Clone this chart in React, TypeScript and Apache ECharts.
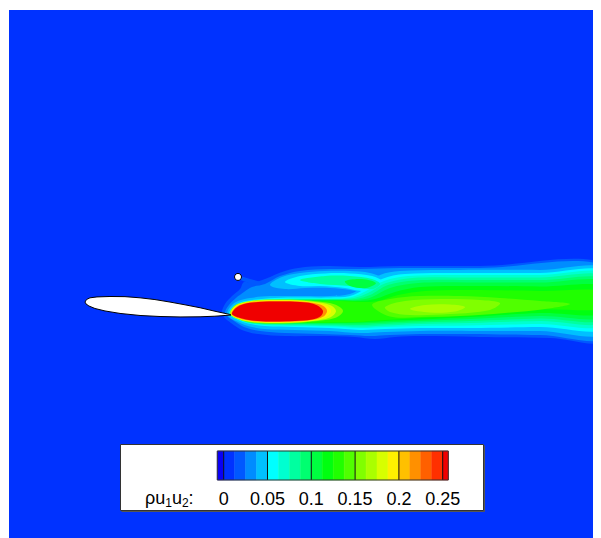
import React, { useEffect, useRef } from 'react';
import * as echarts from 'echarts';

type Pt = [number, number];

// contour levels of rho*u1*u2 (band i lies between LEVELS[i-1] and LEVELS[i])
const LEVELS = [0, 0.0125, 0.025, 0.0375, 0.05, 0.0625, 0.075, 0.0875, 0.1, 0.1125, 0.125, 0.1375, 0.15, 0.1625, 0.175, 0.1875, 0.2, 0.2125, 0.225, 0.2375, 0.25];
const BAR_MIN = -0.0073;
const BAR_MAX = 0.2564;
const TICK_VALUES = [0, 0.05, 0.1, 0.15, 0.2, 0.25];
const BAND_COLORS = ['#0A00F5', '#0032FF', '#0058FF', '#008CFF', '#00C0FF', '#00FFFF', '#00FFD0', '#00FFA0', '#00FF70', '#00FF40', '#00FF10', '#20FF00', '#50FF00', '#80FF00', '#AAFF00', '#D7FF00', '#FFF000', '#FFC000', '#FF9000', '#FF6000', '#FF3000', '#F00000'];

// domain in chord units (x/c, y/c)
const X_RANGE: Pt = [-0.5205, 3.5342];
const Y_RANGE: Pt = [-1.5411, 2.0753];

const airfoil: Pt[] = [
  [0, 0.075], [0.010, 0.092], [0.034, 0.104], [0.082, 0.110], [0.171, 0.113], [0.274, 0.112], [0.377, 0.104],
  [0.479, 0.092], [0.582, 0.075], [0.685, 0.056], [0.788, 0.036], [0.890, 0.012], [0.993, -0.010],
  [1.0, -0.014], [0.890, -0.022], [0.788, -0.026], [0.651, -0.027], [0.514, -0.024], [0.377, -0.017],
  [0.240, -0.003], [0.137, 0.014], [0.068, 0.031], [0.027, 0.048], [0.007, 0.062],
];
const probe: Pt = [1.048, 0.247];

const wake0125: Pt[] = [
  [0.938, 0.007], [0.959, 0.062], [1.007, 0.116], [1.062, 0.164], [1.089, 0.212], [1.144, 0.205], [1.233, 0.233],
  [1.370, 0.288], [1.507, 0.315], [1.678, 0.322], [1.884, 0.315], [2.158, 0.322], [2.705, 0.322], [3.596, 0.322],
  [3.596, -0.178], [3.185, -0.171], [2.705, -0.164], [2.295, -0.158], [2.123, -0.164], [1.986, -0.178],
  [1.849, -0.164], [1.610, -0.158], [1.370, -0.158], [1.185, -0.144], [1.075, -0.116], [1.0, -0.068], [0.952, -0.027],
];
const trail0125: Pt[] = [[1.048, 0.253], [1.130, 0.233], [1.212, 0.205], [1.185, 0.185], [1.103, 0.212], [1.055, 0.233]];
const wake025: Pt[] = [
  [0.959, 0.007], [0.986, 0.055], [1.034, 0.103], [1.089, 0.144], [1.144, 0.178], [1.233, 0.199], [1.336, 0.253],
  [1.473, 0.288], [1.678, 0.301], [1.884, 0.301], [2.158, 0.308], [2.705, 0.308], [3.596, 0.308],
  [3.596, -0.158], [3.116, -0.151], [2.637, -0.144], [2.295, -0.144], [2.089, -0.151], [1.952, -0.158],
  [1.815, -0.151], [1.610, -0.144], [1.370, -0.137], [1.199, -0.123], [1.089, -0.096], [1.021, -0.055], [0.973, -0.021],
];
const wake0375: Pt[] = [
  [0.973, 0], [1.0, 0.048], [1.048, 0.082], [1.130, 0.103], [1.267, 0.116], [1.473, 0.116], [1.678, 0.116],
  [1.815, 0.130], [1.918, 0.185], [2.021, 0.260], [2.158, 0.288], [2.568, 0.295], [3.116, 0.295], [3.596, 0.291],
  [3.596, -0.130], [3.116, -0.123], [2.637, -0.123], [2.295, -0.123], [2.055, -0.130], [1.884, -0.137],
  [1.678, -0.123], [1.438, -0.116], [1.233, -0.110], [1.116, -0.089], [1.034, -0.055], [0.986, -0.027],
];
const lobe0375: Pt[] = [
  [1.267, 0.192], [1.349, 0.247], [1.473, 0.274], [1.644, 0.288], [1.815, 0.288], [1.952, 0.274], [2.055, 0.226],
  [2.021, 0.158], [1.918, 0.137], [1.815, 0.158], [1.678, 0.171], [1.507, 0.171], [1.370, 0.164],
];
const wake05: Pt[] = [
  [0.986, 0], [1.014, 0.041], [1.062, 0.072], [1.144, 0.089], [1.301, 0.103], [1.473, 0.106], [1.678, 0.106],
  [1.815, 0.116], [1.918, 0.164], [2.034, 0.233], [2.192, 0.267], [2.637, 0.274], [3.116, 0.274], [3.596, 0.274],
  [3.596, -0.096], [3.116, -0.096], [2.637, -0.103], [2.295, -0.103], [2.055, -0.110], [1.884, -0.116],
  [1.678, -0.103], [1.438, -0.096], [1.233, -0.089], [1.116, -0.072], [1.048, -0.048], [1.0, -0.021],
];
const lobe05: Pt[] = [
  [1.370, 0.212], [1.473, 0.253], [1.644, 0.271], [1.815, 0.271], [1.966, 0.253], [2.041, 0.212],
  [2.007, 0.164], [1.897, 0.151], [1.781, 0.171], [1.610, 0.185], [1.473, 0.185],
];
const wake0625: Pt[] = [
  [0.993, 0], [1.021, 0.034], [1.075, 0.065], [1.164, 0.082], [1.336, 0.096], [1.541, 0.099], [1.712, 0.099],
  [1.829, 0.110], [1.925, 0.151], [2.048, 0.219], [2.212, 0.253], [2.637, 0.260], [3.116, 0.260], [3.596, 0.260],
  [3.596, -0.075], [3.116, -0.075], [2.637, -0.086], [2.295, -0.089], [2.055, -0.096], [1.884, -0.103],
  [1.678, -0.093], [1.438, -0.089], [1.233, -0.082], [1.116, -0.068], [1.055, -0.045], [1.007, -0.021],
];
const wake075: Pt[] = [
  [1.0, 0], [1.027, 0.031], [1.089, 0.062], [1.185, 0.079], [1.370, 0.092], [1.575, 0.096], [1.733, 0.096],
  [1.842, 0.103], [1.938, 0.137], [2.062, 0.205], [2.240, 0.240], [2.637, 0.243], [3.116, 0.243], [3.596, 0.243],
  [3.596, -0.055], [3.116, -0.055], [2.637, -0.068], [2.295, -0.075], [2.055, -0.086], [1.884, -0.093],
  [1.678, -0.086], [1.438, -0.082], [1.233, -0.079], [1.116, -0.065], [1.062, -0.041], [1.014, -0.017],
];
const lobe075: Pt[] = [
  [1.473, 0.226], [1.644, 0.253], [1.815, 0.253], [1.966, 0.233], [2.021, 0.199], [1.966, 0.164], [1.815, 0.185], [1.610, 0.199],
];
const wake0875: Pt[] = [
  [1.003, 0], [1.034, 0.027], [1.103, 0.058], [1.199, 0.075], [1.404, 0.089], [1.596, 0.092], [1.747, 0.092],
  [1.856, 0.096], [1.952, 0.123], [2.075, 0.192], [2.260, 0.223], [2.637, 0.226], [3.116, 0.226], [3.596, 0.226],
  [3.596, -0.038], [3.116, -0.038], [2.637, -0.055], [2.295, -0.065], [2.055, -0.075], [1.884, -0.082],
  [1.678, -0.079], [1.438, -0.075], [1.233, -0.075], [1.116, -0.062], [1.062, -0.038], [1.021, -0.014],
];
const wake1: Pt[] = [
  [1.007, 0], [1.041, 0.027], [1.116, 0.055], [1.212, 0.072], [1.438, 0.086], [1.610, 0.089], [1.760, 0.089],
  [1.870, 0.089], [1.966, 0.110], [2.089, 0.171], [2.281, 0.205], [2.637, 0.209], [3.116, 0.209], [3.596, 0.209],
  [3.596, -0.021], [3.116, -0.021], [2.637, -0.041], [2.295, -0.055], [2.055, -0.065], [1.884, -0.072],
  [1.712, -0.072], [1.473, -0.072], [1.233, -0.072], [1.116, -0.058], [1.062, -0.034], [1.021, -0.014],
];
const lobe1: Pt[] = [[1.781, 0.219], [1.897, 0.233], [1.993, 0.205], [1.925, 0.171], [1.815, 0.185]];
const wake1125: Pt[] = [
  [1.010, 0], [1.048, 0.024], [1.130, 0.051], [1.233, 0.068], [1.473, 0.082], [1.747, 0.086], [1.884, 0.082],
  [1.986, 0.096], [2.123, 0.144], [2.295, 0.178], [2.637, 0.185], [3.116, 0.182], [3.596, 0.178],
  [3.596, 0.003], [3.116, 0], [2.637, -0.027], [2.295, -0.045], [2.055, -0.055], [1.849, -0.065],
  [1.610, -0.068], [1.336, -0.068], [1.144, -0.058], [1.068, -0.034], [1.027, -0.014],
];
const wake125: Pt[] = [
  [1.014, 0], [1.055, 0.021], [1.144, 0.048], [1.253, 0.065], [1.473, 0.079], [1.747, 0.082], [1.897, 0.075],
  [2.007, 0.082], [2.144, 0.123], [2.329, 0.151], [2.637, 0.158], [3.116, 0.151], [3.596, 0.144],
  [3.596, 0.034], [3.116, 0.024], [2.637, -0.014], [2.295, -0.034], [2.055, -0.048], [1.849, -0.062],
  [1.610, -0.065], [1.336, -0.065], [1.144, -0.055], [1.075, -0.031], [1.034, -0.014],
];
const core1375: Pt[] = [
  [1.966, 0.055], [2.089, 0.096], [2.295, 0.116], [2.568, 0.116], [2.842, 0.103], [3.116, 0.082], [3.322, 0.062],
  [3.151, 0.027], [2.877, 0], [2.568, -0.021], [2.295, -0.027], [2.089, -0.024],
];
const core15: Pt[] = [
  [2.055, 0.041], [2.192, 0.082], [2.432, 0.096], [2.705, 0.089], [2.842, 0.068], [2.774, 0.021], [2.5, -0.007],
  [2.226, -0.014], [2.089, 0.007],
];
const core1625: Pt[] = [[2.226, 0.027], [2.329, 0.055], [2.5, 0.058], [2.603, 0.041], [2.534, 0.010], [2.363, 0.003]];
const near15: Pt[] = [
  [0.993, -0.007], [1.021, 0.048], [1.089, 0.075], [1.185, 0.089], [1.336, 0.092], [1.473, 0.089], [1.596, 0.079],
  [1.712, 0.058], [1.767, 0.014], [1.712, -0.034], [1.555, -0.058], [1.438, -0.068], [1.267, -0.072], [1.144, -0.065], [1.062, -0.048],
];
const near175: Pt[] = [
  [0.997, -0.007], [1.024, 0.045], [1.089, 0.072], [1.185, 0.086], [1.336, 0.089], [1.473, 0.086], [1.575, 0.075],
  [1.678, 0.055], [1.719, 0.014], [1.678, -0.031], [1.555, -0.055], [1.438, -0.065], [1.267, -0.068], [1.144, -0.062], [1.062, -0.045],
];
const near1875: Pt[] = [
  [1.0, -0.007], [1.027, 0.041], [1.089, 0.068], [1.185, 0.082], [1.336, 0.086], [1.473, 0.082], [1.562, 0.072],
  [1.651, 0.051], [1.685, 0.014], [1.651, -0.027], [1.555, -0.051], [1.438, -0.062], [1.267, -0.065], [1.144, -0.058], [1.062, -0.041],
];
const near2125: Pt[] = [
  [1.003, -0.007], [1.031, 0.038], [1.089, 0.065], [1.185, 0.079], [1.336, 0.082], [1.473, 0.079], [1.562, 0.068],
  [1.633, 0.048], [1.658, 0.014], [1.633, -0.024], [1.555, -0.048], [1.438, -0.058], [1.267, -0.062], [1.144, -0.055], [1.062, -0.038],
];
const near25: Pt[] = [
  [1.007, -0.007], [1.034, 0.034], [1.089, 0.062], [1.185, 0.075], [1.336, 0.079], [1.473, 0.075], [1.555, 0.065],
  [1.603, 0.045], [1.630, 0.014], [1.616, -0.021], [1.555, -0.045], [1.438, -0.055], [1.267, -0.058], [1.144, -0.051], [1.062, -0.034],
];

const CONTOURS: { level: number; ring: Pt[] }[] = [
  { level: 0.0125, ring: wake0125 },
  { level: 0.0125, ring: trail0125 },
  { level: 0.025, ring: wake025 },
  { level: 0.0375, ring: wake0375 },
  { level: 0.0375, ring: lobe0375 },
  { level: 0.05, ring: wake05 },
  { level: 0.05, ring: lobe05 },
  { level: 0.0625, ring: wake0625 },
  { level: 0.075, ring: wake075 },
  { level: 0.075, ring: lobe075 },
  { level: 0.0875, ring: wake0875 },
  { level: 0.1, ring: wake1 },
  { level: 0.1, ring: lobe1 },
  { level: 0.1125, ring: wake1125 },
  { level: 0.125, ring: wake125 },
  { level: 0.1375, ring: core1375 },
  { level: 0.15, ring: core15 },
  { level: 0.1625, ring: core1625 },
  { level: 0.15, ring: near15 },
  { level: 0.175, ring: near175 },
  { level: 0.1875, ring: near1875 },
  { level: 0.2125, ring: near2125 },
  { level: 0.25, ring: near25 },
];

const FONT = "'Liberation Sans', Arial, Helvetica, sans-serif";

export default function App() {
  const ref = useRef<HTMLDivElement>(null);
  useEffect(() => {
    if (!ref.current) return;
    const chart = echarts.init(ref.current, null, { renderer: 'svg' });
    const bandColor = (level: number) => BAND_COLORS[LEVELS.indexOf(level) + 1];
    const contourItems = CONTOURS.map((c, i) => [c.ring[0][0], c.ring[0][1], i]);
    const barBands = BAND_COLORS.map((_, i) => [
      i === 0 ? BAR_MIN : LEVELS[i - 1],
      i === BAND_COLORS.length - 1 ? BAR_MAX : LEVELS[i],
      i,
    ]);

    chart.setOption({
      animation: false,
      grid: [
        { left: 1, top: 2, right: 0, bottom: 0, show: true, backgroundColor: BAND_COLORS[1], borderWidth: 0 },
        { left: 209.3, top: 443, width: 231, height: 29, show: false },
      ],
      xAxis: [
        { type: 'value', gridIndex: 0, min: X_RANGE[0], max: X_RANGE[1], show: false },
        {
          type: 'value', gridIndex: 1, min: BAR_MIN, max: BAR_MAX, z: 10,
          axisLine: { show: false }, axisTick: { show: false }, splitLine: { show: false },
          axisLabel: {
            customValues: TICK_VALUES, formatter: (v: number) => String(v),
            fontSize: 18, fontFamily: FONT, color: '#000', margin: 10,
          },
        },
      ],
      yAxis: [
        { type: 'value', gridIndex: 0, min: Y_RANGE[0], max: Y_RANGE[1], show: false },
        { type: 'value', gridIndex: 1, min: 0, max: 1, show: false },
      ],
      graphic: [
        {
          type: 'rect', z: 1,
          shape: { x: 112.5, y: 436.5, width: 363, height: 66 },
          style: { fill: '#ffffff', stroke: '#333333', lineWidth: 1 },
        },
        {
          type: 'polyline', z: 1,
          shape: { points: [[476.5, 437.5], [476.5, 503.5], [113.5, 503.5]] },
          style: { stroke: '#555555', lineWidth: 1, fill: 'none' },
        },
        {
          type: 'text', z: 10, x: 137, y: 490,
          style: {
            text: '{a|ρu}{s|1}{a|u}{s|2}{a|:}',
            verticalAlign: 'middle',
            rich: {
              a: { fontSize: 18, fontFamily: FONT, fill: '#000', lineHeight: 22 },
              s: { fontSize: 12, fontFamily: FONT, fill: '#000', lineHeight: 22, verticalAlign: 'bottom' },
            },
          },
        },
      ],
      series: [
        {
          type: 'custom', xAxisIndex: 0, yAxisIndex: 0, clip: true, silent: true,
          data: contourItems,
          renderItem: (params: any, api: any) => {
            const c = CONTOURS[params.dataIndex];
            return {
              type: 'polygon',
              shape: { points: c.ring.map((p) => api.coord(p)), smooth: 0.35 },
              style: { fill: bandColor(c.level) },
            };
          },
        },
        {
          type: 'custom', xAxisIndex: 0, yAxisIndex: 0, clip: true, silent: true, z: 3,
          data: [[airfoil[0][0], airfoil[0][1]]],
          renderItem: (_p: any, api: any) => ({
            type: 'polygon',
            shape: { points: airfoil.map((p) => api.coord(p)) },
            style: { fill: '#ffffff', stroke: '#000000', lineWidth: 1 },
          }),
        },
        {
          type: 'scatter', xAxisIndex: 0, yAxisIndex: 0, z: 4, silent: true,
          data: [probe], symbol: 'circle', symbolSize: 7,
          itemStyle: { color: '#ffffff', borderColor: '#000000', borderWidth: 1, opacity: 1 },
        },
        {
          type: 'custom', xAxisIndex: 1, yAxisIndex: 1, silent: true, z: 5,
          data: barBands,
          renderItem: (_p: any, api: any) => {
            const a = api.coord([api.value(0), 0]);
            const b = api.coord([api.value(1), 1]);
            const col = BAND_COLORS[api.value(2)];
            return {
              type: 'rect',
              shape: { x: a[0], y: b[1], width: b[0] - a[0], height: a[1] - b[1] },
              style: { fill: col, stroke: col, lineWidth: 0.5 },
            };
          },
        },
        {
          type: 'custom', xAxisIndex: 1, yAxisIndex: 1, silent: true, z: 6,
          data: TICK_VALUES.map((v) => [v, 0]),
          renderItem: (_p: any, api: any) => {
            const a = api.coord([api.value(0), 0]);
            const b = api.coord([api.value(0), 1]);
            return {
              type: 'line',
              shape: { x1: a[0], y1: a[1], x2: b[0], y2: b[1] },
              style: { stroke: '#111111', lineWidth: 1 },
            };
          },
        },
        {
          type: 'custom', xAxisIndex: 1, yAxisIndex: 1, silent: true, z: 7,
          data: [[BAR_MIN, BAR_MAX]],
          renderItem: (_p: any, api: any) => {
            const a = api.coord([api.value(0), 0]);
            const b = api.coord([api.value(1), 1]);
            return {
              type: 'rect',
              shape: { x: a[0], y: b[1], width: b[0] - a[0], height: a[1] - b[1] },
              style: { fill: 'none', stroke: '#333333', lineWidth: 1 },
            };
          },
        },
      ],
    });
    return () => chart.dispose();
  }, []);
  return <div ref={ref} style={{ width: 593, height: 530 }} />;
}
